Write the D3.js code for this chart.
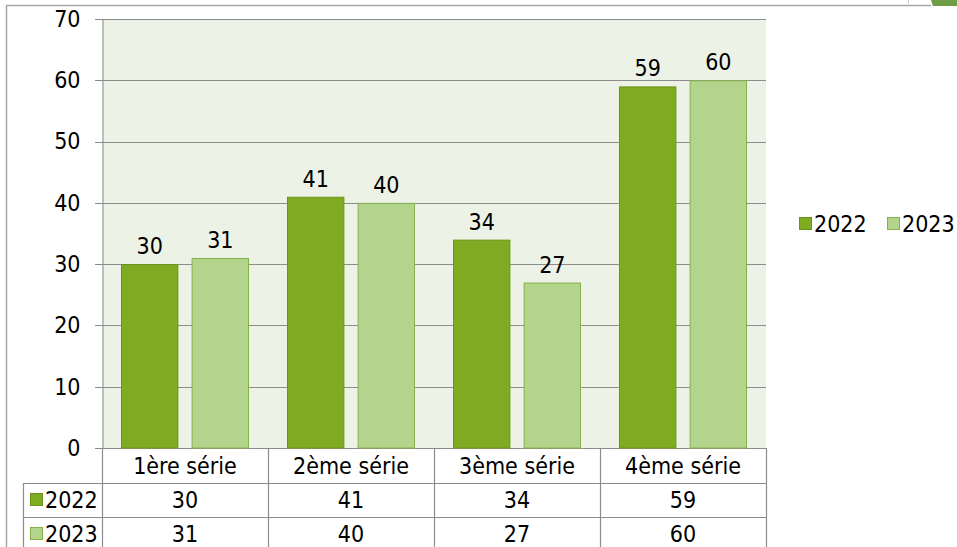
<!DOCTYPE html>
<html lang="fr">
<head>
<meta charset="UTF-8" />
<script src="https://d3js.org/d3.v7.min.js"></script>
<title>Séries 2022 / 2023</title>
<style>
  body { margin: 0; background: #fff; }
  svg text { font-family: "DejaVu Sans Condensed", "DejaVu Sans", sans-serif; font-stretch: condensed; fill: #000; }
</style>
</head>
<body>
<script>
// data
var categories = ["1ère série", "2ème série", "3ème série", "4ème série"];
var seriesNames = ["2022", "2023"];
var values2022 = [30, 41, 34, 59];
var values2023 = [31, 40, 27, 60];
var yTicks = [0, 10, 20, 30, 40, 50, 60, 70];

var allValues = [values2022, values2023];
var fills = ["#7fab22", "#b3d48c"];
var strokes = ["#6a9419", "#86b04a"];
var fs = 23;

var width = 957, height = 547;
var svg = d3.select("body").append("svg").attr("width", width).attr("height", height);

var plot = { left: 102, right: 766, top: 19, bottom: 448 };

// outer frame + corner decoration
svg.append("line").attr("x1", 6).attr("x2", 931).attr("y1", 5.5).attr("y2", 5.5).attr("stroke", "#a6a6a6").attr("stroke-width", 1.5);
svg.append("line").attr("x1", 6.5).attr("x2", 6.5).attr("y1", 5).attr("y2", height).attr("stroke", "#a6a6a6").attr("stroke-width", 1.5);
svg.append("line").attr("x1", 908.5).attr("x2", 908.5).attr("y1", 0).attr("y2", 4).attr("stroke", "#d0d0d0");
svg.append("polygon").attr("points", "931,0 957,0 957,6 933,6").attr("fill", "#6e9e45");

var x = d3.scaleBand().domain(categories).range([plot.left, plot.right]);
var inner = d3.scaleBand().domain(seriesNames).range([19, x.bandwidth() - 19]).paddingInner(24 / 128);
var y = d3.scaleLinear().domain([0, 70]).range([plot.bottom, plot.top]);

// plot area
svg.append("rect").attr("x", plot.left).attr("y", plot.top)
  .attr("width", plot.right - plot.left).attr("height", plot.bottom - plot.top)
  .attr("fill", "#ecf2e6");

// gridlines
svg.append("g").selectAll("line").data(yTicks).join("line")
  .attr("x1", plot.left - 7).attr("x2", plot.right)
  .attr("y1", function(d){ return Math.round(y(d)) + 0.5; })
  .attr("y2", function(d){ return Math.round(y(d)) + 0.5; })
  .attr("stroke", "#8c8c8c").attr("stroke-width", 1);

// y axis
var yAxis = svg.append("g").attr("transform", "translate(" + (plot.left + 0.5) + ",0)")
  .call(d3.axisLeft(y).tickValues(yTicks).tickSize(0).tickPadding(22));
yAxis.attr("font-family", null).attr("font-size", null);
yAxis.select(".domain").attr("stroke", "#8c8c8c");
yAxis.selectAll("text").attr("font-size", fs).attr("fill", "#000");

// bars
var groups = svg.append("g").selectAll("g").data(seriesNames).join("g");
groups.each(function(s, si) {
  d3.select(this).selectAll("rect").data(allValues[si]).join("rect")
    .attr("x", function(d, i){ return x(categories[i]) + inner(s) + 0.5; })
    .attr("y", function(d){ return y(d) + 0.5; })
    .attr("width", inner.bandwidth() - 1)
    .attr("height", function(d){ return y(0) - y(d) - 0.5; })
    .attr("fill", fills[si]).attr("stroke", strokes[si]);
  d3.select(this).selectAll("text").data(allValues[si]).join("text")
    .attr("x", function(d, i){ return x(categories[i]) + inner(s) + inner.bandwidth() / 2; })
    .attr("y", function(d){ return y(d) - 10; })
    .attr("text-anchor", "middle").attr("font-size", fs)
    .text(function(d){ return d; });
});

// data table
var rowH = [35, 34, 34];
var rowY = [plot.bottom, plot.bottom + rowH[0], plot.bottom + rowH[0] + rowH[1]];
var tableLeft = 23;
var grid = svg.append("g").attr("stroke", "#8c8c8c").attr("stroke-width", 1.2);
grid.append("line").attr("x1", tableLeft).attr("x2", plot.right).attr("y1", rowY[1] + 0.5).attr("y2", rowY[1] + 0.5);
grid.append("line").attr("x1", tableLeft).attr("x2", plot.right).attr("y1", rowY[2] + 0.5).attr("y2", rowY[2] + 0.5);
grid.append("line").attr("x1", tableLeft + 0.5).attr("x2", tableLeft + 0.5).attr("y1", rowY[1]).attr("y2", height);
var bounds = [plot.left].concat(categories.map(function(c){ return x(c) + x.bandwidth(); }));
grid.selectAll("line.v").data(bounds).join("line").attr("class", "v")
  .attr("x1", function(d){ return Math.round(d) + 0.5; })
  .attr("x2", function(d){ return Math.round(d) + 0.5; })
  .attr("y1", plot.bottom).attr("y2", height);

// header row
svg.append("g").selectAll("text").data(categories).join("text")
  .attr("x", function(d){ return x(d) + x.bandwidth() / 2; })
  .attr("y", rowY[0] + 26)
  .attr("text-anchor", "middle").attr("font-size", fs)
  .text(function(d){ return d; });

// value rows
seriesNames.forEach(function(s, si) {
  var top = rowY[si + 1];
  svg.append("rect").attr("x", 30.5).attr("y", top + 10.5).attr("width", 12).attr("height", 12)
    .attr("fill", fills[si]).attr("stroke", strokes[si]);
  svg.append("text").attr("x", 45).attr("y", top + 25).attr("font-size", fs).text(s);
  svg.append("g").selectAll("text").data(allValues[si]).join("text")
    .attr("x", function(d, i){ return x(categories[i]) + x.bandwidth() / 2; })
    .attr("y", top + 25)
    .attr("text-anchor", "middle").attr("font-size", fs)
    .text(function(d){ return d; });
});

// legend
var legendX = [799, 887];
seriesNames.forEach(function(s, si) {
  svg.append("rect").attr("x", legendX[si] + 0.5).attr("y", 217.5).attr("width", 12).attr("height", 12)
    .attr("fill", fills[si]).attr("stroke", strokes[si]);
  svg.append("text").attr("x", legendX[si] + 15).attr("y", 232).attr("font-size", fs).text(s);
});
</script>
</body>
</html>
